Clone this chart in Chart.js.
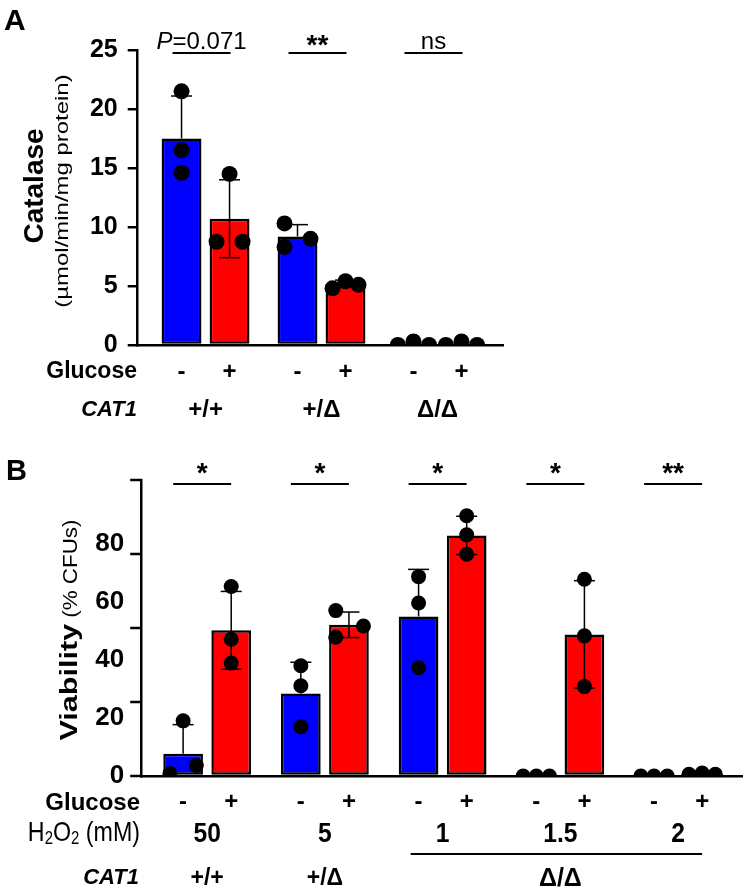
<!DOCTYPE html>
<html><head><meta charset="utf-8">
<script src="https://cdn.jsdelivr.net/npm/chart.js@4.4.1/dist/chart.umd.min.js"></script>
<style>
html,body{margin:0;padding:0;background:#fff;width:750px;height:892px;overflow:hidden}
canvas{position:absolute;left:0}
#cA{top:0}
#cB{top:430px}
</style></head><body>
<canvas id="cA" width="750" height="430"></canvas>
<canvas id="cB" width="750" height="462"></canvas>
<script>
// ---------- Panel A data ----------
const aGenotypes = ['+/+', '+/Δ', 'Δ/Δ'];
const aMinus = [17.5, 9.2, 0];
const aPlus = [10.7, 5.2, 0];
const aSdMinus = [3.6, 1.0, 0];
const aSdPlus = [3.3, 0.3, 0];
const aDotsMinus = [[21.5, 16.5, 14.6], [10.3, 8.3, 9.0], [0, 0.3, 0]];
const aDotsPlus = [[14.5, 8.75, 8.75], [4.8, 5.4, 5.1], [0, 0.3, 0]];
const aJitterMinus = [[0, 0, 0], [-1, -1, 1], [-1.2, 0, 1.2]];
const aJitterPlus = [[0, -1, 1], [-1, 0, 1], [-1.2, 0, 1.2]];
const aSig = ['P=0.071', '**', 'ns'];
const aTicks = [0, 5, 10, 15, 20, 25];

// ---------- Panel B data ----------
const bGenotypes = ['+/+', '+/Δ', 'Δ/Δ'];
const bGenotypeSpans = [[0, 0], [1, 1], [2, 4]];
const bH2O2 = ['50', '5', '1', '1.5', '2'];
const bMinus = [7.7, 28.4, 55, 0, 0];
const bPlus = [50.2, 52.1, 82.9, 48.8, 0.7];
const bSdMinus = [10, 10.8, 16.2, 0, 0];
const bSdPlus = [13.4, 4.4, 6.6, 18.5, 0];
const bDotsMinus = [[0.9, 3.6, 19], [38, 31.1, 17], [68.7, 59.6, 37.3], [0, 0, 0], [0, 0, 0]];
const bDotsPlus = [[65.3, 47.1, 38.9], [57, 47.8, 51.7], [89.7, 83.1, 76.4], [67.8, 48.3, 30.8], [0.6, 1, 0.6]];
const bJitterMinus = [[-1, 1, 0], [0, 0, 0], [0, 0, 0], [-1, 0, 1], [-1, 0, 1]];
const bJitterPlus = [[0, 0, 0], [-1, -1, 1.1], [0, 0, 0], [0, 0, 0], [-1, 0, 1]];
const bSig = ['*', '*', '*', '*', '**'];
const bTickLabels = [0, 20, 40, 60, 80];
const bTickMarks = [0, 25.5, 51, 76.5, 102];

const glucoseSigns = ['-', '+'];

// ---------- styles ----------
const SANS = '"Liberation Sans", Arial, Helvetica, sans-serif';
const BLUE = '#0000ff', RED = '#ff0000';

function fnt(size, weight, family, style) {
  return (style || 'normal') + ' ' + (weight || 'normal') + ' ' + size + 'px ' + family;
}
function text(ctx, s, x, y, f, align, base, sx) {
  ctx.save(); ctx.translate(x, y); ctx.scale(sx || 1, 1);
  ctx.font = f; ctx.textAlign = align || 'center'; ctx.textBaseline = base || 'middle';
  ctx.fillStyle = '#000'; ctx.fillText(s, 0, 0); ctx.restore();
}
function line(ctx, x1, y1, x2, y2, w) {
  ctx.save(); ctx.strokeStyle = '#000'; ctx.lineWidth = w; ctx.beginPath();
  ctx.moveTo(x1, y1); ctx.lineTo(x2, y2); ctx.stroke(); ctx.restore();
}
// vertical (rotated) text made of pieces, centered at (cx, cy)
function vtext(ctx, pieces, cx, cy) {
  let total = 0;
  pieces.forEach(p => { ctx.font = p.f; p.w = ctx.measureText(p.s).width * p.sx; total += p.w + (p.gap || 0); });
  ctx.save(); ctx.translate(cx, cy + total / 2); ctx.rotate(-Math.PI / 2);
  let pos = 0;
  pieces.forEach(p => {
    ctx.save(); ctx.translate(pos, 0); ctx.scale(p.sx, 1);
    ctx.font = p.f; ctx.textAlign = 'left'; ctx.textBaseline = 'middle'; ctx.fillStyle = '#000';
    ctx.fillText(p.s, 0, 0); ctx.restore();
    pos += p.w + (p.gap || 0);
  });
  ctx.restore();
}
// horizontal run of pieces, right aligned at xr, compressed by sx
function hrun(ctx, pieces, xr, y, sx) {
  let total = 0;
  pieces.forEach(p => { ctx.font = p.f; p.w = ctx.measureText(p.s).width * sx; total += p.w; });
  let x = xr - total;
  pieces.forEach(p => { text(ctx, p.s, x, y + (p.dy || 0), p.f, 'left', 'middle', sx); x += p.w; });
}

function drawErrors(chart, P, q) {
  const {ctx, scales: {x, y}} = chart;
  P.minus.forEach((m, g) => {
    const sd = P.sdMinus[g]; if (sd <= 0) return;
    const px = x.getPixelForValue(g - q);
    const y1 = y.getPixelForValue(m), y2 = y.getPixelForValue(m + sd);
    line(ctx, px, y1, px, y2, P.errWidth);
    line(ctx, px - P.capHalf, y2, px + P.capHalf, y2, P.errWidth);
  });
  P.plus.forEach((m, g) => {
    const sd = P.sdPlus[g]; if (sd <= 0) return;
    const px = x.getPixelForValue(g + q);
    const yl = y.getPixelForValue(m - sd), yh = y.getPixelForValue(m + sd);
    line(ctx, px, yl, px, yh, P.errWidth);
    line(ctx, px - P.capHalf, yh, px + P.capHalf, yh, P.errWidth);
    line(ctx, px - P.capHalf, yl, px + P.capHalf, yl, P.errWidth);
  });
}

function makePanel(canvasId, P) {
  const q = P.cp / 4;
  const groupIdx = P.minus.map((_, g) => g);
  const dots = [];
  const addDots = (vals, jit, side) => vals.forEach((arr, g) => arr.forEach((v, j) =>
    dots.push({x: g + side * q + jit[g][j] * P.jitUnit, y: v})));
  addDots(P.dotsMinus, P.jitMinus, -1);
  addDots(P.dotsPlus, P.jitPlus, 1);
  const decor = {
    id: 'decor' + canvasId,
    beforeDatasetDraw(chart, args) { if (args.meta.type === 'scatter') drawErrors(chart, P, q); },
    afterDraw(chart) { P.draw(chart, q); }
  };
  const barDs = (vals, color) => ({
    type: 'bar', data: vals.map((v, g) => ({x: g, y: v})), backgroundColor: color,
    borderColor: '#000', borderWidth: P.barBorder, borderSkipped: false,
    barPercentage: P.bp, categoryPercentage: P.cp, order: 2
  });
  return new Chart(document.getElementById(canvasId), {
    type: 'bar',
    data: {datasets: [
      barDs(P.minus, BLUE), barDs(P.plus, RED),
      {type: 'scatter', data: dots, pointRadius: P.dotR, pointHoverRadius: P.dotR,
       backgroundColor: '#000', borderColor: '#000', pointBorderWidth: 0, showLine: false, order: 1}
    ]},
    options: {
      responsive: false, animation: false, devicePixelRatio: 1, events: [],
      layout: {padding: P.padding},
      plugins: {legend: {display: false}, tooltip: {enabled: false}},
      scales: {
        x: {type: 'linear', min: P.xmin, max: P.xmax, offset: false,
            afterBuildTicks: s => { s.ticks = groupIdx.map(v => ({value: v})); },
            afterFit: s => { s.height = 0; },
            ticks: {display: false}, grid: {display: false, offset: false},
            border: {display: true, color: '#000', width: 2.5}},
        y: {min: 0, max: P.ymax,
            afterBuildTicks: s => { s.ticks = P.yTicks.map(v => ({value: v})); },
            afterFit: s => { s.width = P.yWidth; },
            ticks: {color: '#000', padding: P.tickPad, font: P.tickFont},
            grid: {display: true, drawOnChartArea: false, drawTicks: P.drawTicks, tickLength: 10,
                   color: '#000', lineWidth: 2.5},
            border: {display: true, color: '#000', width: 2.5}}
      }
    },
    plugins: [decor]
  });
}

// ---------- Panel A ----------
makePanel('cA', {
  minus: aMinus, plus: aPlus, sdMinus: aSdMinus, sdPlus: aSdPlus,
  dotsMinus: aDotsMinus, dotsPlus: aDotsPlus, jitMinus: aJitterMinus, jitPlus: aJitterPlus,
  cp: 0.828, bp: 0.83, xmin: -0.585, xmax: 2.565, ymax: 25, yTicks: aTicks,
  padding: {top: 50, right: 247, bottom: 85, left: 0}, yWidth: 137.7,
  tickPad: 10, drawTicks: true, tickFont: {family: SANS, size: 25, weight: 'bold'},
  jitUnit: 0.112, dotR: 8, barBorder: 2.5, errWidth: 1.5, capHalf: 10.5,
  draw(chart, q) {
    const {ctx, scales: {x}} = chart;
    text(ctx, 'A', 4, 22, fnt(30, 'bold', SANS), 'left');
    vtext(ctx, [{s: 'Catalase', f: fnt(28, 'bold', SANS), sx: 1}], 35, 186);
    vtext(ctx, [{s: '(µmol/min/mg protein)', f: fnt(19, 'normal', SANS), sx: 1.26}], 63, 191);
    aSig.forEach((s, g) => {
      const cx = x.getPixelForValue(g) - 4;
      line(ctx, cx - 29, 53, cx + 29, 53, 2);
      if (s.startsWith('P=')) {
        const fi = fnt(24, 'normal', SANS, 'italic'), fn = fnt(24, 'normal', SANS);
        ctx.font = fi; const w1 = ctx.measureText('P').width;
        ctx.font = fn; const w2 = ctx.measureText(s.slice(1)).width;
        const x0 = cx - (w1 + w2) / 2;
        text(ctx, 'P', x0, 49, fi, 'left', 'alphabetic');
        text(ctx, s.slice(1), x0 + w1, 49, fn, 'left', 'alphabetic');
      } else if (s.includes('*')) {
        text(ctx, s, cx, 54, fnt(28, 'bold', SANS), 'center', 'alphabetic');
      } else {
        text(ctx, s, cx, 49, fnt(24, 'normal', SANS), 'center', 'alphabetic');
      }
    });
    text(ctx, 'Glucose', 137, 372, fnt(23, 'bold', SANS), 'right');
    aGenotypes.forEach((gname, g) => {
      text(ctx, glucoseSigns[0], x.getPixelForValue(g - q), 372, fnt(24, 'bold', SANS));
      text(ctx, glucoseSigns[1], x.getPixelForValue(g + q), 372, fnt(24, 'bold', SANS));
      text(ctx, gname, x.getPixelForValue(g), 410, fnt(24, 'bold', SANS));
    });
    text(ctx, 'CAT1', 137, 410, fnt(22, 'bold', SANS, 'italic'), 'right');
  }
});

// ---------- Panel B ----------
makePanel('cB', {
  minus: bMinus, plus: bPlus, sdMinus: bSdMinus, sdPlus: bSdPlus,
  dotsMinus: bDotsMinus, dotsPlus: bDotsPlus, jitMinus: bJitterMinus, jitPlus: bJitterPlus,
  cp: 0.817, bp: 0.825, xmin: -0.556, xmax: 4.547, ymax: 102, yTicks: bTickLabels,
  padding: {top: 50, right: 2, bottom: 116, left: 0}, yWidth: 141.7,
  tickPad: 17.5, drawTicks: false, tickFont: {family: SANS, size: 26, weight: 'bold'},
  jitUnit: 0.112, dotR: 7.5, barBorder: 2.5, errWidth: 1.5, capHalf: 10.5,
  draw(chart, q) {
    const {ctx, scales: {x, y}, chartArea} = chart;
    // axis tick marks placed by the y scale
    bTickMarks.forEach(v => { const py = y.getPixelForValue(v); line(ctx, chartArea.left - 11.5, py, chartArea.left, py, 2.5); });
    text(ctx, 'B', 6, 42, fnt(29, 'bold', SANS), 'left');
    vtext(ctx, [
      {s: 'Viability', f: fnt(23, 'bold', SANS), sx: 1.33, gap: 6},
      {s: '(% CFUs)', f: fnt(20, 'normal', SANS), sx: 1.12}
    ], 71, 200);
    bSig.forEach((s, g) => {
      const cx = x.getPixelForValue(g) - 5;
      line(ctx, cx - 29, 54, cx + 29, 54, 2);
      text(ctx, s, cx, 52, fnt(28, 'bold', SANS), 'center', 'alphabetic');
    });
    text(ctx, 'Glucose', 140, 373, fnt(24, 'bold', SANS), 'right');
    bH2O2.forEach((h, g) => {
      text(ctx, glucoseSigns[0], x.getPixelForValue(g - q), 372, fnt(24, 'bold', SANS));
      text(ctx, glucoseSigns[1], x.getPixelForValue(g + q), 372, fnt(24, 'bold', SANS));
      text(ctx, h, x.getPixelForValue(g), 404, fnt(28, 'bold', SANS), 'center', 'middle', 0.88);
    });
    const fH = fnt(28, 'normal', SANS), fS = fnt(18, 'normal', SANS);
    hrun(ctx, [{s: 'H', f: fH}, {s: '2', f: fS, dy: 6}, {s: 'O', f: fH}, {s: '2', f: fS, dy: 6}, {s: ' (mM)', f: fH}], 140, 403, 0.83);
    text(ctx, 'CAT1', 139, 448, fnt(22, 'bold', SANS, 'italic'), 'right');
    bGenotypes.forEach((gname, i) => {
      const [g0, g1] = bGenotypeSpans[i];
      const cx = (x.getPixelForValue(g0) + x.getPixelForValue(g1)) / 2;
      text(ctx, gname, cx, 449, fnt(g1 > g0 ? 25 : 23, 'bold', SANS));
      if (g1 > g0) line(ctx, x.getPixelForValue(g0) - 32, 424, x.getPixelForValue(g1) + 24, 424, 2);
    });
  }
});
</script>
</body></html>
